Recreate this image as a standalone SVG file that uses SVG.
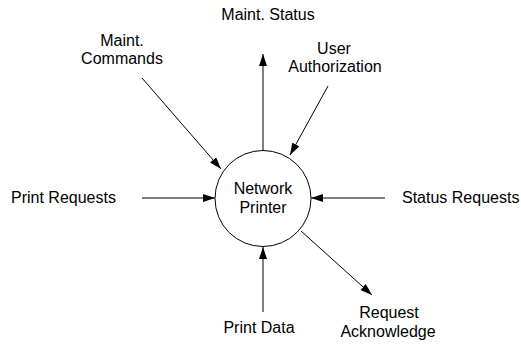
<svg xmlns="http://www.w3.org/2000/svg" width="521" height="345" viewBox="0 0 521 345">
<style>
text{font-family:"Liberation Sans",Arial,sans-serif;font-size:16px;fill:#000}
.c{text-anchor:middle}
.l{stroke:#000;stroke-width:1;fill:none}
</style>
<defs>
<marker id="a" viewBox="0 0 12 8" refX="12" refY="4" markerWidth="12" markerHeight="8" markerUnits="userSpaceOnUse" orient="auto">
<path d="M0,0L12,4L0,8z" fill="#000"/>
</marker>
</defs>
<rect width="521" height="345" fill="#fff"/>
<g id="connectors">
<line class="l" x1="142" y1="198" x2="215" y2="198" marker-end="url(#a)"/>
<line class="l" x1="385" y1="198" x2="311" y2="198" marker-end="url(#a)"/>
<line class="l" x1="263" y1="150" x2="263" y2="54" marker-end="url(#a)"/>
<line class="l" x1="142" y1="78" x2="221" y2="169" marker-end="url(#a)"/>
<line class="l" x1="328" y1="86" x2="290" y2="155" marker-end="url(#a)"/>
<line class="l" x1="301" y1="231" x2="372" y2="295" marker-end="url(#a)"/>
<line class="l" x1="263" y1="312" x2="263" y2="247" marker-end="url(#a)"/>
</g>
<g id="network-printer">
<circle cx="263" cy="198.5" r="48" fill="#fff" stroke="#000"/>
<text class="c" x="263" y="194">Network</text>
<text class="c" x="263" y="213">Printer</text>
</g>
<g id="maint-status"><text class="c" x="268" y="20">Maint. Status</text></g>
<g id="maint-commands"><text class="c" x="122" y="46">Maint.</text><text class="c" x="122" y="64">Commands</text></g>
<g id="user-authorization"><text class="c" x="334" y="54">User</text><text class="c" x="335" y="72">Authorization</text></g>
<g id="print-requests"><text x="11" y="203">Print Requests</text></g>
<g id="status-requests"><text x="402" y="203">Status Requests</text></g>
<g id="print-data"><text class="c" x="259" y="333">Print Data</text></g>
<g id="request-acknowledge"><text class="c" x="389" y="318">Request</text><text class="c" x="388" y="337">Acknowledge</text></g>
</svg>
